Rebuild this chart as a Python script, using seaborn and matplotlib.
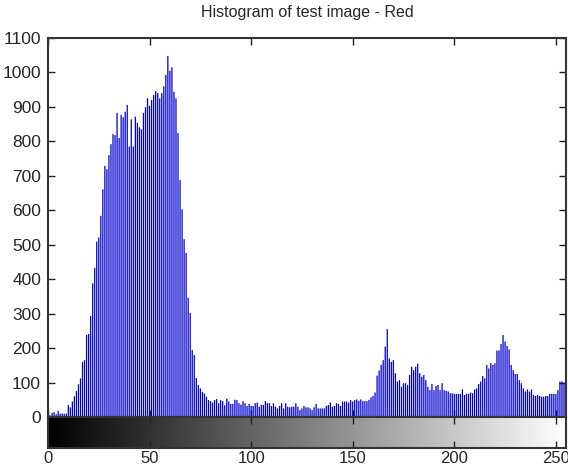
import numpy as np
import matplotlib
matplotlib.use("Agg")
import matplotlib.pyplot as plt
import seaborn as sns

# intensity levels 0..255 and pixel counts
levels = np.arange(256)

counts_0_49 = [8, 5, 12, 14, 8, 18, 10, 10, 9, 10,
               35, 28, 45, 60, 75, 95, 112, 160, 165, 238,
               241, 293, 388, 433, 509, 521, 584, 661, 729, 719,
               760, 792, 821, 818, 883, 810, 877, 870, 886, 906,
               785, 864, 785, 872, 854, 841, 835, 883, 899, 925]
counts_50_99 = [903, 920, 935, 946, 941, 925, 940, 960, 993, 1048,
                1005, 1015, 944, 925, 824, 688, 603, 516, 476, 346,
                302, 194, 180, 113, 93, 83, 73, 68, 59, 49,
                46, 42, 49, 52, 40, 49, 46, 34, 53, 45,
                38, 38, 50, 49, 40, 36, 46, 40, 32, 38]
counts_100_149 = [32, 32, 40, 42, 30, 35, 35, 46, 40, 40,
                  32, 40, 30, 25, 32, 40, 25, 40, 30, 28,
                  30, 30, 40, 30, 20, 25, 32, 28, 28, 25,
                  20, 28, 38, 25, 25, 25, 25, 32, 35, 42,
                  30, 32, 40, 38, 32, 45, 45, 45, 42, 49]
counts_150_199 = [45, 49, 51, 47, 51, 46, 46, 46, 50, 57,
                  61, 71, 120, 135, 151, 165, 204, 255, 170, 160,
                  165, 127, 103, 107, 88, 98, 98, 93, 122, 146,
                  136, 146, 155, 127, 117, 122, 107, 88, 78, 96,
                  78, 90, 93, 78, 98, 78, 76, 74, 69, 69]
counts_200_255 = [67, 67, 67, 67, 80, 64, 67, 67, 71, 69,
                  80, 83, 96, 103, 119, 112, 151, 141, 156, 151,
                  156, 193, 193, 212, 238, 219, 206, 196, 151, 136,
                  125, 125, 107, 98, 83, 74, 80, 74, 80, 64,
                  61, 64, 61, 59, 59, 61, 61, 67, 67, 67,
                  67, 78, 103, 103, 100, 200]

counts = counts_0_49 + counts_50_99 + counts_100_149 + counts_150_199 + counts_200_255

x_ticks = [0, 50, 100, 150, 200, 250]
y_ticks = list(range(0, 1101, 100))

sns.set_style("ticks")
plt.rcParams["font.family"] = ["Liberation Sans", "DejaVu Sans"]

fig = plt.figure(figsize=(5.68, 4.69), dpi=100)
ax = fig.add_axes([0.0845, 0.1109, 0.912, 0.808])
cax = fig.add_axes([0.0845, 0.0448, 0.912, 0.0661])

sns.histplot(x=levels, weights=counts, discrete=True, shrink=0.62,
             color="#0000cc", edgecolor="none", linewidth=0, alpha=1, ax=ax)
# no pixel snapping, so the thin bars look even
for p in ax.patches:
    p.set_snap(False)

ax.set_xlim(0, 255)
ax.set_ylim(0, 1100)
ax.set_yticks(y_ticks)
ax.set_xticks(x_ticks)
ax.set_xticklabels([])
ax.set_xlabel("")
ax.set_ylabel("")
ax.tick_params(direction="in", top=True, right=True, length=5, width=1,
               labelsize=12.5, color="#222222", pad=5)
ax.set_title("Histogram of test image - Red", fontsize=11.5, pad=15)
for s in ax.spines.values():
    s.set_visible(True)
    s.set_color("#333333")
    s.set_linewidth(1.5)

# grey ramp under the histogram
ramp = np.linspace(0, 1, 256).reshape(1, -1)
cax.imshow(ramp, cmap="gray", aspect="auto", extent=[0, 255, 0, 1], vmin=0, vmax=1)
cax.set_xlim(0, 255)
cax.set_yticks([])
cax.set_xticks(x_ticks)
cax.set_xticklabels([str(t) for t in x_ticks])
cax.tick_params(direction="in", top=True, length=5, width=1, labelsize=12,
                color="#222222", pad=2)
for s in cax.spines.values():
    s.set_visible(True)
    s.set_color("#333333")
    s.set_linewidth(1.5)

fig.savefig("out.png", dpi=100, facecolor="white")
